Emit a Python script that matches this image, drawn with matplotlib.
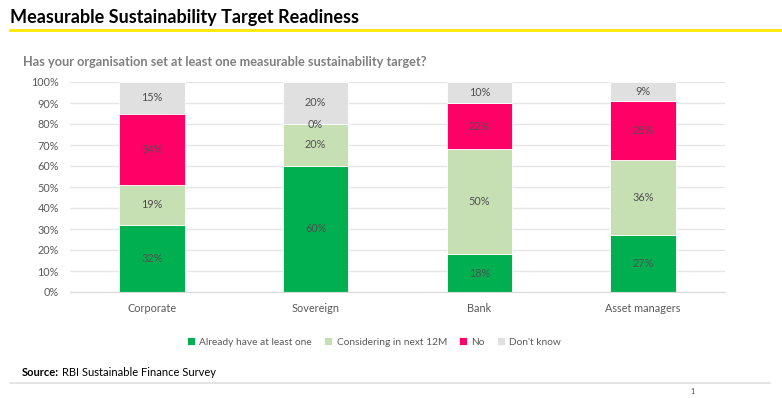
import matplotlib.pyplot as plt
import numpy as np

categories = ["Corporate", "Sovereign", "Bank", "Asset managers"]
series_names = ["Already have at least one", "Considering in next 12M", "No", "Don't know"]
already = [32, 60, 18, 27]
considering = [19, 20, 50, 36]
no = [34, 0, 22, 28]
dont_know = [15, 20, 10, 9]
colors = ["#00B050", "#C6E0B4", "#FF0066", "#E0E0E0"]

plt.rcParams["font.family"] = ["Lato", "DejaVu Sans"]

fig = plt.figure(figsize=(7.82, 3.98), dpi=100)
ax = fig.add_axes([70 / 782, 1 - 292 / 398, 655 / 782, 210 / 398])

x = np.arange(len(categories))
bottom = np.zeros(len(categories))
for name, vals, col in zip(series_names, [already, considering, no, dont_know], colors):
    vals = np.array(vals, dtype=float)
    ax.bar(x, vals, 0.4, bottom=bottom, color=col, label=name, zorder=2,
           edgecolor="white", linewidth=0.6)
    for xi, b, v in zip(x, bottom, vals):
        ax.text(xi, b + v / 2, f"{int(v)}%", ha="center", va="center",
                fontsize=7.8, color="#505050", zorder=3)
    bottom += vals

ax.set_xlim(-0.5, 3.5)
ax.set_ylim(0, 100)
ax.set_yticks(range(0, 101, 10))
ax.set_yticklabels([f"{v}%" for v in range(0, 101, 10)])
ax.set_xticks(x)
ax.set_xticklabels(categories)
ax.tick_params(length=0, labelsize=7.8, labelcolor="#595959", pad=8)
ax.yaxis.grid(True, color="#E6E6E6", linewidth=1, zorder=0)
for s in ["top", "right", "left"]:
    ax.spines[s].set_visible(False)
ax.spines["bottom"].set_color("#D9D9D9")

# legend sits below the axes, centred under the plot area
ax.legend(loc="center", bbox_to_anchor=(374 / 782, 1 - 342 / 398),
          bbox_transform=fig.transFigure, ncol=4, frameon=False,
          fontsize=7.3, labelcolor="#595959", handlelength=0.8,
          handleheight=0.8, columnspacing=1.2, handletextpad=0.4)

fig.text(10 / 782, 1 - 17 / 398, "Measurable Sustainability Target Readiness",
         fontsize=13, fontweight="bold", va="center", color="black")
fig.add_artist(plt.Line2D([10 / 782, 1], [1 - 30 / 398] * 2, color="#FFE600", linewidth=2))
fig.text(23 / 782, 1 - 62 / 398,
         "Has your organisation set at least one measurable sustainability target?",
         fontsize=9.2, fontweight="bold", va="center", color="#7F7F7F")
fig.text(22 / 782, 1 - 372 / 398, "Source:", fontsize=8, fontweight="bold",
         va="center", color="black")
fig.text(62 / 782, 1 - 372 / 398, "RBI Sustainable Finance Survey",
         fontsize=8, va="center", color="black")
fig.add_artist(plt.Line2D([10 / 782, 770 / 782], [1 - 383 / 398] * 2, color="#E0E0E0", linewidth=1.2))
fig.text(690 / 782, 1 - 392 / 398, "1", fontsize=5, va="center", color="#404040")

fig.savefig("out.png", dpi=100)
